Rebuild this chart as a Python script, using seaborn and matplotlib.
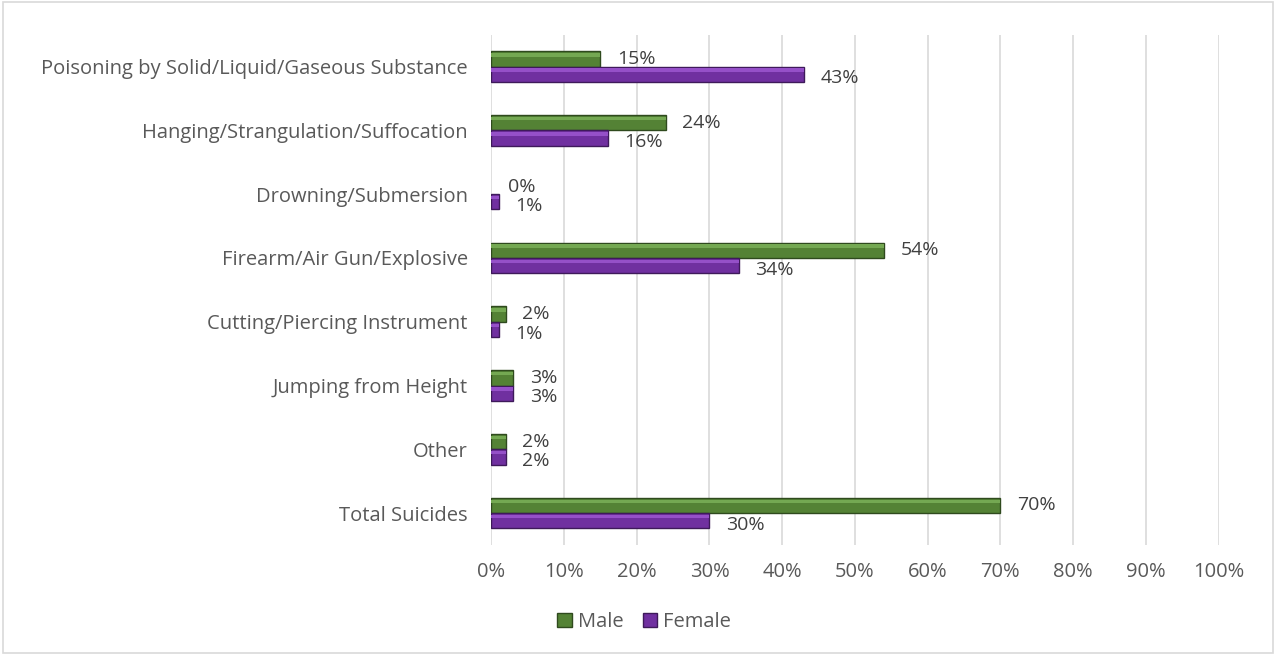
import matplotlib.pyplot as plt
import matplotlib.ticker as mticker
import seaborn as sns
import pandas as pd

# Share of suicides by method, per sex (percent)
categories = [
    "Poisoning by Solid/Liquid/Gaseous Substance",
    "Hanging/Strangulation/Suffocation",
    "Drowning/Submersion",
    "Firearm/Air Gun/Explosive",
    "Cutting/Piercing Instrument",
    "Jumping from Height",
    "Other",
    "Total Suicides",
]
male = [15, 24, 0, 54, 2, 3, 2, 70]
female = [43, 16, 1, 34, 1, 3, 2, 30]
series = ["Male", "Female"]

df = pd.DataFrame({
    "method": categories * 2,
    "pct": male + female,
    "sex": [series[0]] * len(categories) + [series[1]] * len(categories),
})

sns.set_theme(style="white")
plt.rcParams["font.family"] = ["Open Sans", "DejaVu Sans"]

colors = {"Male": "#548235", "Female": "#7030A0"}
edges = {"Male": "#2F4A1E", "Female": "#3E1A5A"}
lights = {"Male": "#74A852", "Female": "#9550C8"}

fig = plt.figure(figsize=(12.76, 6.55), dpi=100)
ax = fig.add_axes([0.385, 0.168, 0.57, 0.779])

sns.barplot(data=df, y="method", x="pct", hue="sex", order=categories,
            hue_order=series, palette=colors, saturation=1, width=0.48,
            orient="h", ax=ax, legend=False)

for cont, name in zip(ax.containers, series):
    dy = 0 if name == "Male" else -3
    for bar in cont:
        w = bar.get_width()
        h = bar.get_height()
        y0 = bar.get_y()
        bar.set_edgecolor(edges[name])
        bar.set_linewidth(1.0 if w > 0 else 0)
        # light stripe to hint at the bevelled look
        if w > 0:
            ax.add_patch(plt.Rectangle((0, y0 + h * 0.12), w, h * 0.22,
                                       facecolor=lights[name], edgecolor="none",
                                       zorder=bar.get_zorder() + 0.1))
        ax.annotate(f"{w:.0f}%", (w, y0 + h / 2), xytext=(12, dy),
                    textcoords="offset points", va="center", ha="left",
                    fontsize=14, color="#404040")

ax.set_xlim(0, 100)
ax.set_xticks(range(0, 101, 10))
ax.xaxis.set_major_formatter(mticker.PercentFormatter(decimals=0))
ax.grid(axis="x", color="#D9D9D9", linewidth=1.2)
ax.set_axisbelow(True)
for s in ax.spines.values():
    s.set_visible(False)
ax.set_xlabel("")
ax.set_ylabel("")
ax.tick_params(axis="x", length=0, pad=12, labelsize=14.5, labelcolor="#595959")
ax.tick_params(axis="y", length=0, pad=17, labelsize=14.5, labelcolor="#595959")

handles = [plt.Rectangle((0, 0), 1, 1, facecolor=colors[n], edgecolor=edges[n])
           for n in series]
fig.legend(handles, series, loc="center", bbox_to_anchor=(0.505, 0.05), ncol=2,
           frameon=False, fontsize=14.5, handlelength=0.7, handleheight=0.7,
           handletextpad=0.3, columnspacing=1.0, labelcolor="#595959")

fig.add_artist(plt.Rectangle((0.002, 0.003), 0.996, 0.994, transform=fig.transFigure,
                             fill=False, edgecolor="#D9D9D9", linewidth=1.2))

fig.savefig("out.png", dpi=100)
